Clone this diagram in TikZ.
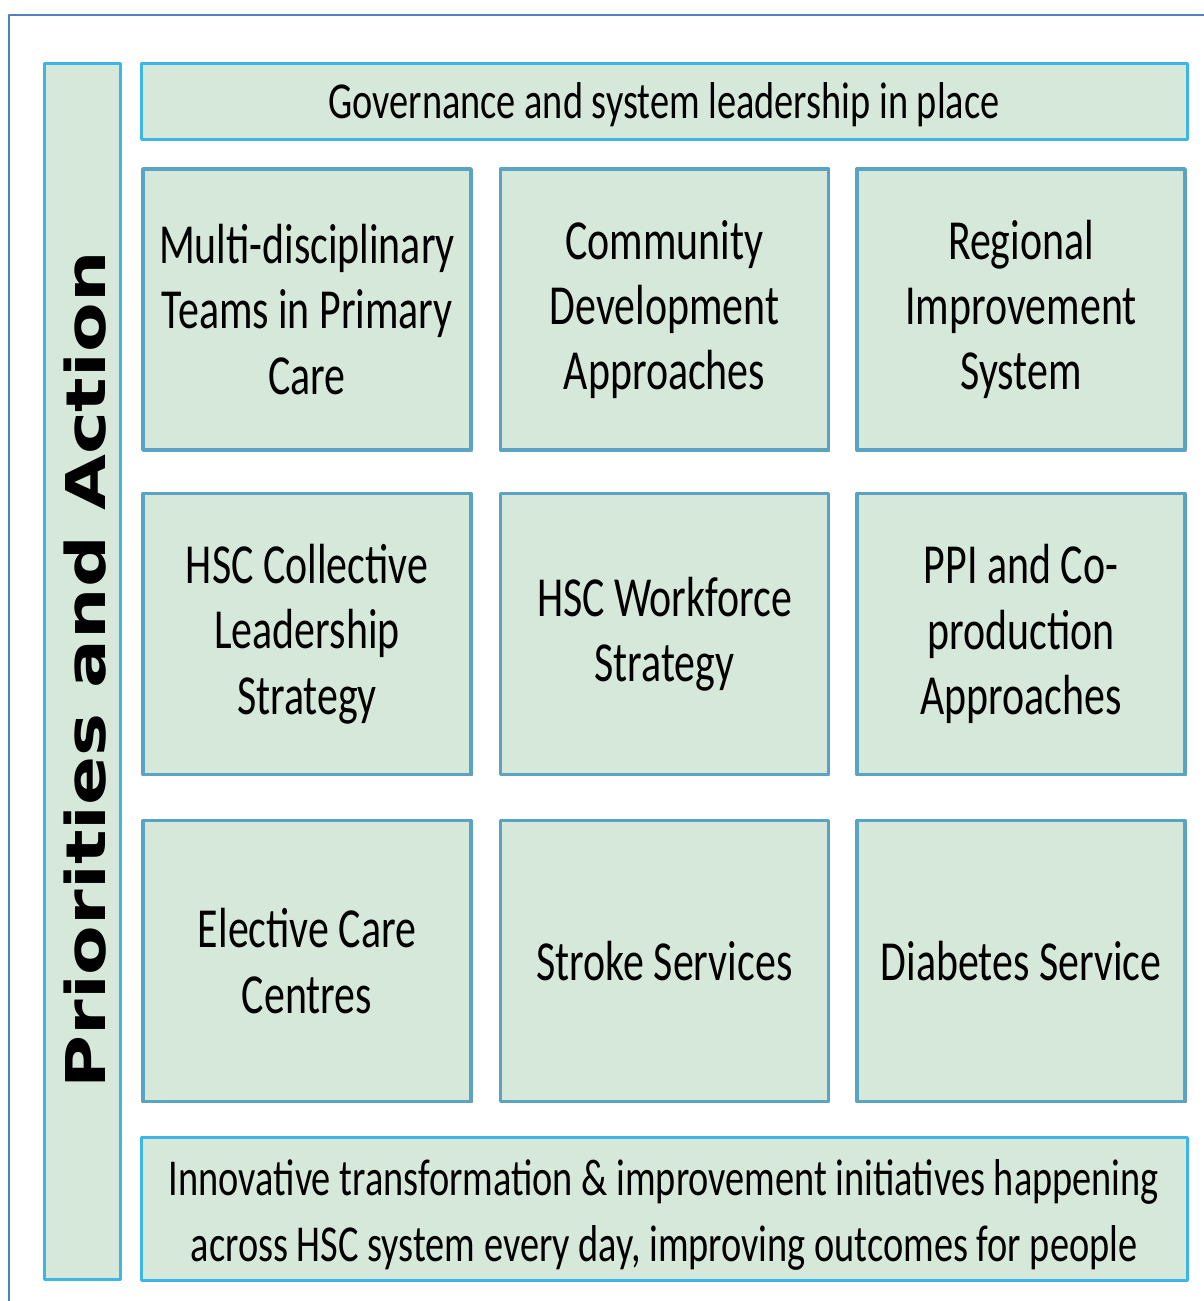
\documentclass[tikz,border=0pt]{standalone}
\usepackage{fontspec}
\setmainfont{Carlito}[FakeStretch=0.74]
\newfontfamily\sidefont{DejaVu Sans}[FakeStretch=1.32]
\usetikzlibrary{shadows}
\definecolor{cellfill}{HTML}{D5E8D9}
\definecolor{bandline}{HTML}{3CB6E6}
\definecolor{cellline}{HTML}{5AA3C3}
\definecolor{frameline}{HTML}{4F81BD}
\tikzset{band/.style={draw=bandline, line width=1.5pt, fill=cellfill, inner sep=0pt}}
\tikzset{bandtext/.style={font=\fontsize{25.9pt}{33pt}\selectfont}}
\tikzset{cell/.style={draw=cellline, line width=1.7pt, fill=cellfill, inner sep=0pt,
	minimum width=164pt, minimum height=140.5pt, font=\fontsize{28.3pt}{32.7pt}\selectfont,
	drop shadow={shadow xshift=0.8pt, shadow yshift=-0.8pt, fill=black!45, opacity=0.6}}}
\tikzset{every text node part/.style={align=center}}
\tikzset{sidelabel/.style={font=\sidefont\bfseries\fontsize{27.4pt}{30pt}\selectfont}}

\begin{document}
\begin{tikzpicture}[x=0.5pt, y=-0.5pt, line cap=round, line join=round]

	% Page Size
	\useasboundingbox (0,0) rectangle (1204,1301);
	\clip (0,0) rectangle (1204,1301);

	% Outer Frame
	\draw[frameline, line width=1.3pt] (9,15) rectangle (1240,1340);

	% Side Banner
	\node[band, minimum width=38pt, minimum height=608pt] (side) at (82,671) {};
	\node[sidelabel, rotate=90] (sidetext) at (85,670) {Priorities and Action};

	% Top Banner
	\node[band, minimum width=523pt, minimum height=38pt] (top) at (664,101) {};
	\node[bandtext] (toptext) at ([yshift=-2pt]top.center) {Governance and system leadership in place};

	% First Row
	\node[cell] (mdt) at (307,309.5) {Multi-disciplinary\\Teams in Primary\\Care};
	\node[cell] (cda) at (664.5,309.5) {Community\\Development\\Approaches};
	\node[cell] (ris) at (1021,309.5) {Regional\\Improvement\\System};

	% Second Row
	\node[cell] (cls) at (307,634) {HSC Collective\\Leadership\\Strategy};
	\node[cell] (wfs) at (664.5,634) {HSC Workforce\\Strategy};
	\node[cell] (ppi) at (1021,634) {PPI and Co-\\production\\Approaches};

	% Third Row
	\node[cell] (ecc) at (307,961) {Elective Care\\Centres};
	\node[cell] (stroke) at (664.5,961) {Stroke Services};
	\node[cell] (diab) at (1021,961) {Diabetes Service};

	% Bottom Banner
	\node[band, minimum width=523pt, minimum height=71.5pt] (bottom) at (664,1208.5) {};
	\node[bandtext] (bottomtext) at ([yshift=-3pt]bottom.center) {Innovative transformation \& improvement initiatives happening\\across HSC system every day, improving outcomes for people};
\end{tikzpicture}
\end{document}
